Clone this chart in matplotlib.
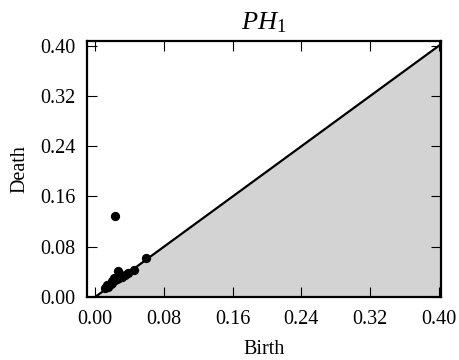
import matplotlib
matplotlib.use("Agg")
import matplotlib.pyplot as plt
import numpy as np

plt.rcParams['font.family'] = 'Liberation Serif'
plt.rcParams['mathtext.fontset'] = 'custom'
plt.rcParams['mathtext.rm'] = 'Liberation Serif'
plt.rcParams['mathtext.it'] = 'Liberation Serif:italic'

# persistence pairs (birth, death)
birth = [0.0233, 0.0593, 0.027, 0.0457, 0.0388, 0.0349, 0.031, 0.023,
         0.0194, 0.0155, 0.0116, 0.020, 0.025, 0.018, 0.022, 0.028, 0.014]
death = [0.129, 0.0616, 0.041, 0.043, 0.0377, 0.035, 0.0324, 0.027,
         0.0218, 0.0164, 0.0143, 0.025, 0.028, 0.020, 0.030, 0.031, 0.019]
ticks = [0.00, 0.08, 0.16, 0.24, 0.32, 0.40]

fig = plt.figure(figsize=(4.6, 3.6), dpi=100)
ax = fig.add_axes([0.1885, 0.175, 0.7695, 0.712])

xl = (-0.0098, 0.402)
yl = (0.0, 0.408)
xx = np.array(xl)
ax.fill_between(xx, 0, xx, color='#d3d3d3', zorder=0)
ax.plot(xx, xx, color='black', lw=1.6, zorder=1)
ax.scatter(birth, death, s=32, color='black', zorder=2)

ax.set_xlim(xl)
ax.set_ylim(yl)
ax.set_xticks(ticks)
ax.set_yticks(ticks)
ax.set_xticklabels(['%.2f' % t for t in ticks])
ax.set_yticklabels(['%.2f' % t for t in ticks])
ax.tick_params(direction='in', top=True, right=True, length=7, width=0.8,
               labelsize=14.5)
ax.tick_params(axis='x', pad=9)
ax.tick_params(axis='y', pad=8)
for s in ax.spines.values():
    s.set_linewidth(1.6)

ax.set_xlabel('Birth', fontsize=14.5, labelpad=8)
ax.set_ylabel('Death', fontsize=14.5, labelpad=8)
ax.set_title('$PH_1$', fontsize=19, pad=8)

fig.savefig('out.png', dpi=100)
